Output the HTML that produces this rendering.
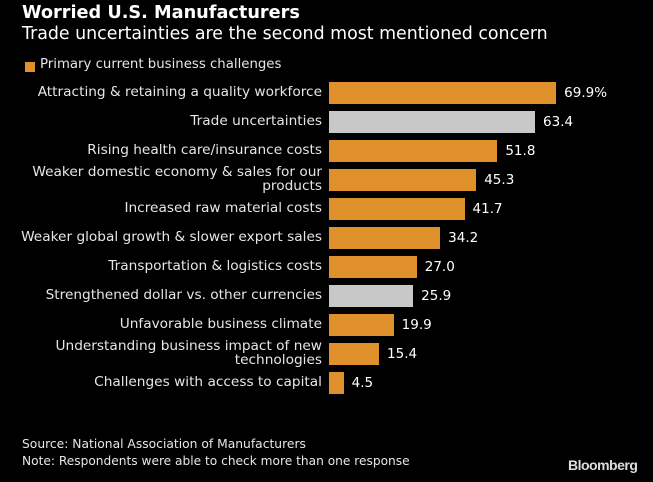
<!DOCTYPE html>
<html><head><style>
body{margin:0;width:653px;height:482px;background:#000;overflow:hidden;font-family:"DejaVu Sans","Liberation Sans",sans-serif;color:#fff;position:relative}
.a{position:absolute;white-space:nowrap}
.l{position:absolute;right:331px;text-align:right;font-size:13.7px;color:#e6e6e6;line-height:14px;white-space:nowrap}
.b{position:absolute;left:329px;height:22px;background:#e0902a}
.g{background:#c8c8c8}
.v{position:absolute;font-size:13.5px;color:#fff}
</style></head><body>
<div class="a" style="left:22px;top:3px;font-size:17.7px;font-weight:bold">Worried U.S. Manufacturers</div>
<div class="a" style="left:22px;top:24px;font-size:17.4px">Trade uncertainties are the second most mentioned concern</div>
<div class="a" style="left:25px;top:62px;width:10px;height:10px;background:#e0902a"></div>
<div class="a" style="left:40px;top:57px;font-size:13.3px;color:#e6e6e6">Primary current business challenges</div>
<div id="c"></div>
<div class="a" style="left:22px;top:437px;font-size:12.3px;color:#e6e6e6">Source: National Association of Manufacturers</div>
<div class="a" style="left:22px;top:454px;font-size:12.2px;color:#e6e6e6">Note: Respondents were able to check more than one response</div>
<div class="a" style="left:568px;top:457px;font-size:14px;font-weight:bold;color:#ddd;font-family:'Liberation Sans',sans-serif;letter-spacing:-0.5px">Bloomberg</div>
<script>
var d=[["Attracting &amp; retaining a quality workforce",69.9,"69.9%"],["Trade uncertainties",63.4,"63.4",1],["Rising health care/insurance costs",51.8,"51.8"],["Weaker domestic economy &amp; sales for our<br>products",45.3,"45.3"],["Increased raw material costs",41.7,"41.7"],["Weaker global growth &amp; slower export sales",34.2,"34.2"],["Transportation &amp; logistics costs",27.0,"27.0"],["Strengthened dollar vs. other currencies",25.9,"25.9",1],["Unfavorable business climate",19.9,"19.9"],["Understanding business impact of new<br>technologies",15.4,"15.4"],["Challenges with access to capital",4.5,"4.5"]];
var h="";d.forEach(function(r,i){var t=82+i*29,w=r[1]*3.25,two=r[0].indexOf("<br>")>0;
h+='<div class="l" style="top:'+(two?t-4:t+3)+'px">'+r[0]+'</div>';
h+='<div class="b'+(r[3]?' g':'')+'" style="top:'+t+'px;width:'+w+'px"></div>';
h+='<div class="v" style="top:'+(t+3)+'px;left:'+(329+w+8)+'px">'+r[2]+'</div>';});
document.getElementById("c").innerHTML=h;
</script>
</body></html>
